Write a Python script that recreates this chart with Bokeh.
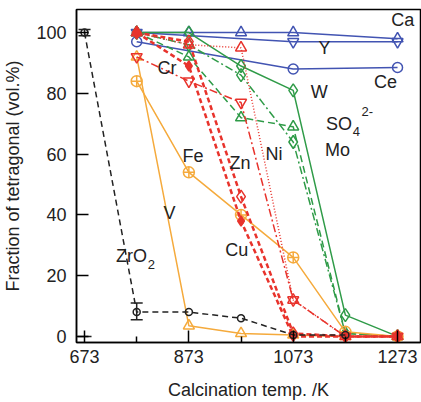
import math
from bokeh.plotting import figure
from bokeh.models import Range1d, FixedTicker, ColumnDataSource
from bokeh.core.properties import value
from bokeh.embed import file_html
from bokeh.resources import INLINE

nan = float("nan")

# ---- data ----
temps = [773, 873, 973, 1073, 1173, 1273]
ca = [100, 100, 100, 100, nan, 98]
yy = [100, nan, nan, 97, nan, 97]
ce = [97, nan, nan, 88, nan, 88.5]
w = [100, 100, 89, 81, 7, 0]
so4 = [100, 92, 72, 69, 1, 0]
mo = [100, 96, 86, 64, 1, 0]
cr = [92, 84, 77, 12, 0, 0]
ni = [100, 96, 95, 12, 0, 0]
zn = [100, 97, 46, 1, 0, 0]
cu = [100, 89, 38, 0, 0, 0]
fe = [84, 54, 40, 26, 1.5, 0]
vv = [92, 3.5, 1, 0.5, 0, 0]
zr_temps = [673, 773, 873, 973, 1073, 1173]
zro2 = [100, 8, 8, 6, 0.5, 0.5]
zr_err_t = [673, 773]
zr_err_lo = [99, 5.5]
zr_err_hi = [101, 11]
x_ticks = [673, 873, 1073, 1273]
x_minor = [773, 973, 1173]
y_ticks = [0, 20, 40, 60, 80, 100]

BLUE = "#4254b2"
GREEN = "#2f9b48"
RED = "#e8332c"
ORANGE = "#f5aa3c"
BLACK = "#222222"
FONT = "Liberation Sans"

p = figure(width=421, height=402, output_backend="svg", toolbar_location=None,
           x_range=Range1d(657.6, 1317), y_range=Range1d(-2, 107.6),
           min_border_left=75, min_border_right=1, min_border_top=9, min_border_bottom=60)
p.grid.visible = False
p.outline_line_color = "black"
p.outline_line_width = 1.5
p.background_fill_color = "white"
p.border_fill_color = "white"

for ax in (p.xaxis[0], p.yaxis[0]):
    ax.axis_line_width = 1.5
    ax.major_tick_line_width = 1.5
    ax.minor_tick_line_width = 1.5
    ax.major_tick_in = 12
    ax.major_tick_out = 0
    ax.major_label_text_font = FONT
    ax.major_label_text_font_size = "18px"
    ax.major_label_text_color = "#222222"
    ax.axis_label_text_font = FONT
    ax.axis_label_text_font_size = "18px"
    ax.axis_label_text_font_style = "normal"
    ax.axis_label_text_color = "#222222"

p.xaxis.ticker = FixedTicker(ticks=x_ticks, minor_ticks=x_minor)
p.xaxis.minor_tick_in = 6
p.xaxis.minor_tick_out = 0
p.xaxis.major_label_standoff = 7
p.xaxis.axis_label = "Calcination temp. /K"
p.xaxis.axis_label_standoff = 14

p.yaxis.ticker = FixedTicker(ticks=y_ticks)
p.yaxis.minor_tick_in = 0
p.yaxis.minor_tick_out = 0
p.yaxis.major_label_standoff = 10
p.yaxis.axis_label = "Fraction of tetragonal (vol.%)"
p.yaxis.axis_label_standoff = 10


def series(xs, ys, color, marker, dash="solid", lw=1.5, msize=11, fill=None):
    pts = [(a, b) for a, b in zip(xs, ys) if not math.isnan(b)]
    src = ColumnDataSource(dict(x=[a for a, _ in pts], y=[b for _, b in pts]))
    p.line("x", "y", source=src, line_color=color, line_width=lw, line_dash=dash)
    p.scatter("x", "y", source=src, marker=marker, size=msize, line_color=color,
              line_width=1.5, fill_color=fill if fill else None)


# blue
series(temps, ca, BLUE, "triangle")
series(temps, yy, BLUE, "inverted_triangle")
series(temps, ce, BLUE, "circle", msize=10)
# green
series(temps, w, GREEN, "diamond", msize=13)
series(temps, so4, GREEN, "triangle", dash="7 4")
series(temps, mo, GREEN, "diamond", dash="8 3 2 3", msize=13)
# orange
series(temps, fe, ORANGE, "circle_cross", msize=11)
series(temps, vv, ORANGE, "triangle")
# red
series(temps, cr, RED, "inverted_triangle", dash="8 3 2 3")
series(temps, ni, RED, "triangle", dash="1 2")
series(temps, zn, RED, "diamond", dash="5 3", lw=2.5, msize=13)
series(temps, cu, RED, "diamond", dash="5 3", lw=2.5, msize=10, fill=RED)
# ZrO2
series(zr_temps, zro2, BLACK, "circle", dash="6 4", msize=7)
p.segment(x0=zr_err_t, y0=zr_err_lo, x1=zr_err_t, y1=zr_err_hi, line_color=BLACK, line_width=1.5)
p.scatter(x=zr_err_t + zr_err_t, y=zr_err_lo + zr_err_hi, marker="dash", size=12,
          line_color=BLACK, line_width=1.5)
p.scatter(x=[673], y=[0], marker="dash", size=14, line_color=BLACK, line_width=1.5)

# labels
lab_x = [1283, 1133, 1250, 1123, 1158, 831, 881, 971, 1036, 836, 965]
lab_y = [104.3, 95, 83.6, 80.6, 61.2, 88.5, 59.5, 57.2, 60.2, 40.5, 28.3]
lab_t = ["Ca", "Y", "Ce", "W", "Mo", "Cr", "Fe", "Zn", "Ni", "V", "Cu"]
p.text(x=lab_x, y=lab_y, text=lab_t, text_font=value(FONT), text_font_size="18px",
       text_align="center", text_baseline="middle", text_color="#222222")
# SO4 2-
p.text(x=[1161], y=[70], text=["SO"], text_font=value(FONT), text_font_size="18px",
       text_align="center", text_baseline="middle", text_color="#222222")
p.text(x=[1194], y=[67.6], text=["4"], text_font=value(FONT), text_font_size="13px",
       text_align="center", text_baseline="middle", text_color="#222222")
p.text(x=[1215], y=[74], text=["2-"], text_font=value(FONT), text_font_size="13px",
       text_align="center", text_baseline="middle", text_color="#222222")
# ZrO2
p.text(x=[763], y=[26.6], text=["ZrO"], text_font=value(FONT), text_font_size="18px",
       text_align="center", text_baseline="middle", text_color="#222222")
p.text(x=[801], y=[23.8], text=["2"], text_font=value(FONT), text_font_size="13px",
       text_align="center", text_baseline="middle", text_color="#222222")

open("out.html", "w").write(file_html(p, INLINE))
